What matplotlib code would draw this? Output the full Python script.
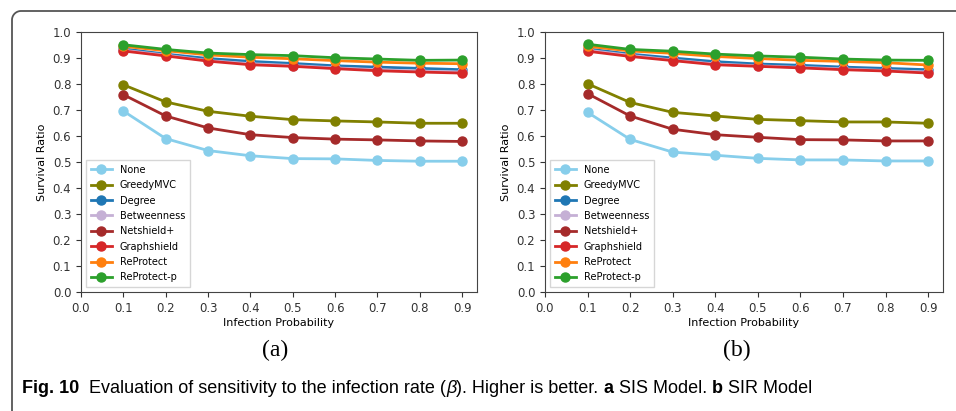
import numpy as np
import matplotlib.pyplot as plt
from matplotlib.lines import Line2D

x = [0.1, 0.2, 0.3, 0.4, 0.5, 0.6, 0.7, 0.8, 0.9]
names = ['None', 'GreedyMVC', 'Degree', 'Betweenness', 'Netshield+', 'Graphshield', 'ReProtect', 'ReProtect-p']
colors = ['#87ceeb', '#808000', '#1f77b4', '#c5b0d5', '#a52a2a', '#d62728', '#ff7f0e', '#2ca02c']

# (a) SIS model
sis_none = [0.696, 0.590, 0.544, 0.524, 0.513, 0.512, 0.506, 0.503, 0.503]
sis_greedy = [0.797, 0.731, 0.695, 0.676, 0.663, 0.658, 0.654, 0.649, 0.649]
sis_degree = [0.935, 0.915, 0.898, 0.887, 0.879, 0.870, 0.865, 0.860, 0.855]
sis_betw = [0.930, 0.911, 0.890, 0.878, 0.871, 0.862, 0.855, 0.850, 0.846]
sis_netshield = [0.759, 0.677, 0.631, 0.605, 0.594, 0.588, 0.585, 0.581, 0.579]
sis_graphshield = [0.927, 0.908, 0.888, 0.874, 0.868, 0.859, 0.851, 0.846, 0.842]
sis_reprotect = [0.945, 0.928, 0.912, 0.903, 0.897, 0.890, 0.884, 0.880, 0.878]
sis_reprotect_p = [0.951, 0.933, 0.919, 0.913, 0.909, 0.901, 0.896, 0.891, 0.892]

# (b) SIR model
sir_none = [0.691, 0.587, 0.538, 0.526, 0.514, 0.508, 0.508, 0.504, 0.504]
sir_greedy = [0.801, 0.729, 0.691, 0.677, 0.664, 0.659, 0.654, 0.654, 0.649]
sir_degree = [0.935, 0.915, 0.900, 0.886, 0.877, 0.872, 0.865, 0.860, 0.855]
sir_betw = [0.930, 0.910, 0.892, 0.877, 0.870, 0.864, 0.858, 0.852, 0.846]
sir_netshield = [0.763, 0.677, 0.626, 0.605, 0.595, 0.586, 0.585, 0.581, 0.581]
sir_graphshield = [0.926, 0.906, 0.890, 0.874, 0.868, 0.862, 0.855, 0.850, 0.842]
sir_reprotect = [0.945, 0.927, 0.918, 0.906, 0.898, 0.891, 0.887, 0.882, 0.873]
sir_reprotect_p = [0.953, 0.933, 0.926, 0.915, 0.908, 0.903, 0.896, 0.892, 0.891]

sis = [sis_none, sis_greedy, sis_degree, sis_betw, sis_netshield, sis_graphshield, sis_reprotect, sis_reprotect_p]
sir = [sir_none, sir_greedy, sir_degree, sir_betw, sir_netshield, sir_graphshield, sir_reprotect, sir_reprotect_p]

W, H = 956, 411
fig = plt.figure(figsize=(W / 100, H / 100), dpi=100)

# frame round the figure: left edge and top edge with a rounded corner
r = 9
ang = np.linspace(np.pi, np.pi / 2, 20)
fx = [12, 12] + list(12 + r + r * np.cos(ang)) + [W + 5]
fy = [H + 5, 11 + r] + list(11 + r - r * np.sin(ang)) + [11]
fig.add_artist(Line2D(np.array(fx) / W, 1 - np.array(fy) / H, transform=fig.transFigure,
                      color='#555555', linewidth=1.3))

boxes = [(81, 477), (545, 943)]
for (l, rr), data in zip(boxes, [sis, sir]):
    ax = fig.add_axes([l / W, (H - 292) / H, (rr - l) / W, (292 - 32) / H])
    for ys, name, c in zip(data, names, colors):
        ax.plot(x, ys, marker='o', markersize=6.5, linewidth=2, color=c, label=name)
    ax.set_xlim(0, 0.935)
    ax.set_ylim(0, 1.0)
    ax.set_xticks(np.arange(0, 0.95, 0.1))
    ax.set_yticks(np.arange(0, 1.05, 0.1))
    ax.xaxis.set_major_formatter(plt.FormatStrFormatter('%.1f'))
    ax.yaxis.set_major_formatter(plt.FormatStrFormatter('%.1f'))
    ax.tick_params(labelsize=8.5, colors='#333333', length=3.5)
    for s in ax.spines.values():
        s.set_color('#444444')
    ax.set_xlabel('Infection Probability', fontsize=8, labelpad=2)
    ax.set_ylabel('Survival Ratio', fontsize=8, labelpad=4)
    ax.legend(loc='lower left', fontsize=7, handlelength=2.2, labelspacing=0.55,
              borderpad=0.5, fancybox=False)

fig.text(275 / W, 1 - 350 / H, '(a)', fontsize=17, family='Liberation Serif',
         ha='center', va='center')
fig.text(737 / W, 1 - 350 / H, '(b)', fontsize=17, family='Liberation Serif',
         ha='center', va='center')

# caption, drawn piece by piece and scaled to the reference width
pieces = [('Fig. 10', 'bold', 'normal'),
          ('  Evaluation of sensitivity to the infection rate (', 'normal', 'normal'),
          ('\u03b2', 'normal', 'italic'),
          ('). Higher is better. ', 'normal', 'normal'),
          ('a', 'bold', 'normal'),
          (' SIS Model. ', 'normal', 'normal'),
          ('b', 'bold', 'normal'),
          (' SIR Model', 'normal', 'normal')]
renderer = fig.canvas.get_renderer()
fam = ['Liberation Sans Narrow', 'Liberation Sans', 'DejaVu Sans']


def draw_caption(size):
    xpos = 22
    made = []
    for txt, wt, st in pieces:
        t = fig.text(xpos / W, 1 - 388 / H, txt, fontsize=size, family=fam,
                     weight=wt, style=st, va='center', ha='left')
        xpos += t.get_window_extent(renderer=renderer).width
        made.append(t)
    return made, xpos


made, end = draw_caption(10)
for t in made:
    t.remove()
size = 10 * (857 - 22) / (end - 22)
draw_caption(min(size, 13))

fig.savefig('out.png', dpi=100)
